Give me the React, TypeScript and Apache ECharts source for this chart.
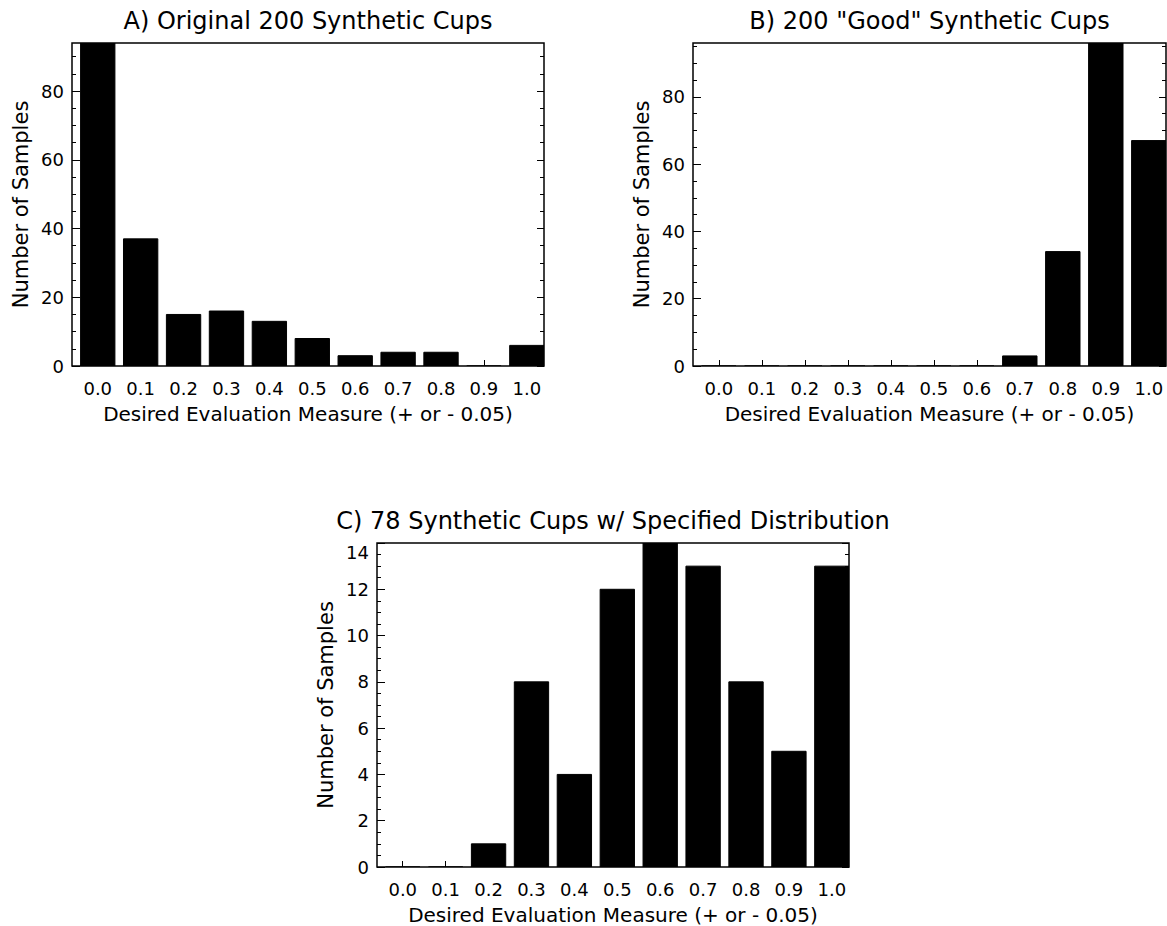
import React, { useEffect, useRef } from "react";
import * as echarts from "echarts";

// ---- data ----
const CATEGORIES = [0.0, 0.1, 0.2, 0.3, 0.4, 0.5, 0.6, 0.7, 0.8, 0.9, 1.0];
const X_LABELS = ["0.0", "0.1", "0.2", "0.3", "0.4", "0.5", "0.6", "0.7", "0.8", "0.9", "1.0"];

const ORIGINAL_COUNTS = [94, 37, 15, 16, 13, 8, 3, 4, 4, 0, 6];
const GOOD_COUNTS = [0, 0, 0, 0, 0, 0, 0, 3, 34, 96, 67];
const SPECIFIED_COUNTS = [0, 0, 1, 8, 4, 12, 14, 13, 8, 5, 13];

const TITLE_A = "A) Original 200 Synthetic Cups";
const TITLE_B = 'B) 200 "Good" Synthetic Cups';
const TITLE_C = "C) 78 Synthetic Cups w/ Specified Distribution";

const Y_MAX = [94, 96, 14];
const Y_MAJOR_A = [0, 20, 40, 60, 80];
const Y_MINOR_A = [0, 5, 10, 15, 20, 25, 30, 35, 40, 45, 50, 55, 60, 65, 70, 75, 80, 85, 90];
const Y_MAJOR_B = [0, 20, 40, 60, 80];
const Y_MINOR_B = [0, 5, 10, 15, 20, 25, 30, 35, 40, 45, 50, 55, 60, 65, 70, 75, 80, 85, 90, 95];
const Y_MAJOR_C = [0, 2, 4, 6, 8, 10, 12, 14];
const Y_MINOR_C = [0, 0.5, 1, 1.5, 2, 2.5, 3, 3.5, 4, 4.5, 5, 5.5, 6, 6.5, 7, 7.5, 8, 8.5, 9, 9.5, 10, 10.5, 11, 11.5, 12, 12.5, 13, 13.5, 14];

const X_NAME = "Desired Evaluation Measure (+ or - 0.05)";
const Y_NAME = "Number of Samples";

const X_MIN = -0.06;
const X_MAX = 1.04;
const HALF_BAR = 0.04;

const FONT = "DejaVu Sans";
const INK = "#000";

export default function App() {
  const ref = useRef<HTMLDivElement>(null);

  useEffect(() => {
    if (!ref.current) return;
    const chart = echarts.init(ref.current, undefined, { renderer: "svg" });

    const grids = [
      { left: 72, top: 43, width: 472, height: 323 },
      { left: 693, top: 43, width: 473, height: 323 },
      { left: 377, top: 543, width: 472, height: 324 },
    ];
    const counts = [ORIGINAL_COUNTS, GOOD_COUNTS, SPECIFIED_COUNTS];
    const majors = [Y_MAJOR_A, Y_MAJOR_B, Y_MAJOR_C];
    const minors = [Y_MINOR_A, Y_MINOR_B, Y_MINOR_C];
    const titleTexts = [TITLE_A, TITLE_B, TITLE_C];

    const xAxes: any[] = [];
    const yAxes: any[] = [];
    const series: any[] = [];
    const titles: any[] = [];

    grids.forEach((g, p) => {
      titles.push({
        text: titleTexts[p],
        left: g.left + g.width / 2,
        top: g.top - 34,
        textAlign: "center",
        padding: 0,
        textStyle: { fontFamily: FONT, fontSize: 24, fontWeight: "normal", color: INK },
      });
      xAxes.push({
        type: "value",
        gridIndex: p,
        min: X_MIN,
        max: X_MAX,
        position: "bottom",
        axisLine: { show: false, onZero: false },
        splitLine: { show: false },
        axisTick: {
          show: true,
          inside: true,
          length: 6,
          customValues: CATEGORIES,
          lineStyle: { color: INK, width: 1 },
        },
        axisLabel: {
          show: true,
          customValues: CATEGORIES,
          margin: 13,
          formatter: (v: number) => X_LABELS[Math.round(v * 10)] ?? "",
          fontFamily: FONT,
          fontSize: 18,
          color: INK,
        },
        name: X_NAME,
        nameLocation: "middle",
        nameGap: 38,
        nameTextStyle: { fontFamily: FONT, fontSize: 20, color: INK },
      });
      const base = {
        type: "value",
        gridIndex: p,
        min: 0,
        max: Y_MAX[p],
        axisLine: { show: false, onZero: false },
        splitLine: { show: false },
      };
      // left major
      yAxes.push({
        ...base,
        position: "left",
        axisTick: { show: true, inside: true, length: 8, customValues: majors[p], lineStyle: { color: INK, width: 1 } },
        axisLabel: {
          show: true,
          customValues: majors[p],
          margin: 8,
          fontFamily: FONT,
          fontSize: 18,
          color: INK,
          formatter: (v: number) => (p === 2 && v === 14 ? "{top|14}" : String(v)),
          rich: { top: { fontFamily: FONT, fontSize: 18, color: INK, padding: [18, 0, 0, 0] } },
        },
        name: Y_NAME,
        nameLocation: "middle",
        nameGap: 41,
        nameTextStyle: { fontFamily: FONT, fontSize: 21, color: INK },
      });
      // left minor
      yAxes.push({
        ...base,
        position: "left",
        axisTick: { show: true, inside: true, length: 4, customValues: minors[p], lineStyle: { color: INK, width: 1 } },
        axisLabel: { show: false },
      });
      // right major
      yAxes.push({
        ...base,
        position: "right",
        axisTick: { show: true, inside: true, length: 7, customValues: majors[p], lineStyle: { color: INK, width: 1 } },
        axisLabel: { show: false },
      });
      // right minor
      yAxes.push({
        ...base,
        position: "right",
        axisTick: { show: true, inside: true, length: 4, customValues: minors[p], lineStyle: { color: INK, width: 1 } },
        axisLabel: { show: false },
      });

      series.push({
        type: "custom",
        xAxisIndex: p,
        yAxisIndex: p * 4,
        clip: true,
        z: 1,
        data: CATEGORIES.map((c, i) => [c, counts[p][i]]),
        renderItem: (_params: any, api: any) => {
          const x = api.value(0);
          const y = api.value(1);
          const p0 = api.coord([x - HALF_BAR, y]);
          const p1 = api.coord([x + HALF_BAR, 0]);
          return {
            type: "rect",
            shape: { x: p0[0], y: p0[1], width: p1[0] - p0[0], height: p1[1] - p0[1] },
            style: { fill: INK, stroke: INK, lineWidth: 1 },
          };
        },
      });
    });

    chart.setOption({
      animation: false,
      backgroundColor: "#fff",
      title: titles,
      grid: grids.map((g) => ({
        ...g,
        show: true,
        borderColor: INK,
        borderWidth: 1.5,
        backgroundColor: "transparent",
      })),
      xAxis: xAxes,
      yAxis: yAxes,
      series,
    });

    return () => chart.dispose();
  }, []);

  return (
    <div
      ref={ref}
      style={{ position: "absolute", left: 0, top: 0, width: 1167, height: 926 }}
    />
  );
}
